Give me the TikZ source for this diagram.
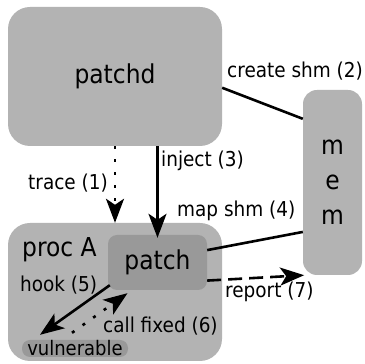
\documentclass[tikz,border=0pt]{standalone}
\usepackage{fontspec}
\setmainfont{DejaVu Sans Condensed}
\usetikzlibrary{arrows.meta}
\definecolor{boxgray}{RGB}{179,179,179}
\definecolor{innergray}{RGB}{153,153,153}

\begin{document}
\begin{tikzpicture}[x=1pt,y=1pt,
  box/.style={fill=boxgray,rounded corners=22pt,inner sep=0pt,align=center,font=\fontsize{26}{35}\selectfont},
  inbox/.style={fill=innergray,rounded corners=9pt,inner sep=0pt},
  lbl/.style={inner sep=0pt,font=\fontsize{20.5}{24}\selectfont},
  link/.style={line width=2.6pt},
  head/.style={-{Stealth[length=24pt,width=18pt,inset=6pt]}},
  dots/.style={dash pattern=on 3pt off 10pt},
  dashes/.style={dash pattern=on 14pt off 7pt}]
\useasboundingbox (0,0) rectangle (365,364);
\node[box,minimum width=214pt,minimum height=139pt] (patchd) at (115,287.5) {patchd};
\node[box,rounded corners=14pt,minimum width=59pt,minimum height=185pt] (mem) at (332.5,181.5) {m\\e\\m};
\node[box,minimum width=214pt,minimum height=138pt] (procA) at (115,72) {};
\node[lbl,font=\fontsize{26}{30}\selectfont,anchor=base west] (procAname) at (22,107) {proc A};
\node[inbox,minimum width=99pt,minimum height=55pt,font=\fontsize{26}{30}\selectfont] (patch) at (157.5,101.5) {patch};
\node[inbox,rounded corners=8pt,minimum width=106pt,minimum height=17pt,font=\fontsize{20}{24}\selectfont] (vuln) at (75,15.5) {vulnerable};
\node[lbl,anchor=base east] (ltrace) at (108,174) {trace (1)};
\node[lbl,anchor=base west] (lcreate) at (227,286) {create shm (2)};
\node[lbl,anchor=base west] (linject) at (161,197) {inject (3)};
\node[lbl,anchor=base west] (lmap) at (177,147) {map shm (4)};
\node[lbl,anchor=base west] (lhook) at (20,72) {hook (5)};
\node[lbl,anchor=base west] (lcall) at (103,31) {call fixed (6)};
\node[lbl,anchor=base west] (lreport) at (225,66) {report (7)};
\draw[link,head,dots] (patchd.south) -- (procA.north);
\draw[link] (patchd.-6) -- (mem.115);
\draw[link,head] (patch.north |- patchd.south) -- ([yshift=-3pt]patch.north);
\draw[link] (patch.14) -- (mem.239);
\draw[link,head] ([xshift=2pt,yshift=5pt]patch.south west) -- ([xshift=-35pt,yshift=5pt]vuln.north);
\draw[link,head,dots] ([xshift=-3pt,yshift=7pt]vuln.north) -- ([xshift=-30pt,yshift=-3pt]patch.south);
\draw[link,head,dashes] (patch.-20) -- (mem.253);
\end{tikzpicture}
\end{document}
